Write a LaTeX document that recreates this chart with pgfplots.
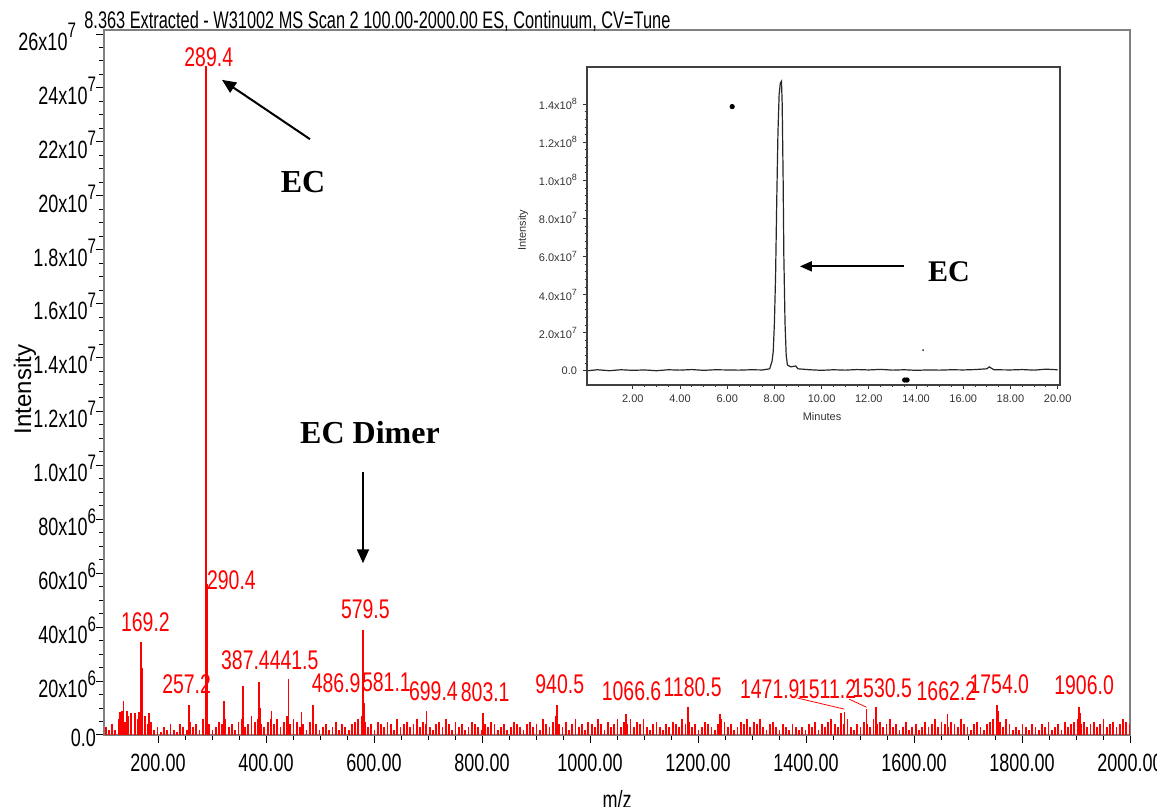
\documentclass[border=0pt]{standalone}
\usepackage{fontspec}
\setmainfont{Liberation Sans}
\newfontfamily\narrow{Liberation Sans}[FakeStretch=0.72]
\newfontfamily\tnr{Liberation Serif}
\usepackage{graphicx}
\usepackage{pgfplots}
\pgfplotsset{compat=1.18}
\usetikzlibrary{arrows.meta}
\newcommand\E[1]{\raisebox{0.5em}{\fontsize{10.5}{11}\selectfont#1}}
\newcommand\e[1]{\raisebox{0.45em}{\fontsize{4.5}{5}\selectfont#1}}

% baseline noise of the spectrum, intensity in 1e6
\pgfplotstableread{
x y
103 3
109 2
115 4
121 2
127 6
133 9
139 5
145 7
151 4
157 8
163 6
169 5
175 7
181 4
187 5
193 2
199 3
205 1
211 3
217 2
223 4
229 2
235 1
241 4
247 3
253 2
259 5
265 3
271 4
277 2
283 6
289 3
295 4
301 2
307 3
313 5
319 4
325 6
331 3
337 4
343 2
349 5
355 6
361 3
367 4
373 7
379 5
385 6
391 4
397 3
403 5
409 6
415 4
421 6
427 3
433 5
439 7
445 4
451 6
457 5
463 3
469 4
475 2
481 5
487 3
493 4
499 2
505 3
511 4
517 2
523 3
529 5
535 2
541 4
547 3
553 2
559 4
565 5
571 6
577 7
583 5
589 3
595 4
601 2
607 5
613 4
619 3
625 5
631 4
637 2
643 6
649 3
655 4
661 5
667 3
673 4
679 6
685 3
691 5
697 4
703 3
709 2
715 4
721 5
727 3
733 6
739 4
745 2
751 5
757 3
763 4
769 2
775 3
781 5
787 4
793 3
799 2
805 4
811 3
817 5
823 4
829 2
835 3
841 4
847 2
853 3
859 5
865 4
871 3
877 2
883 4
889 5
895 3
901 4
907 2
913 6
919 4
925 3
931 5
937 7
943 4
949 3
955 5
961 2
967 4
973 6
979 3
985 4
991 2
997 5
1003 4
1009 3
1015 6
1021 4
1027 2
1033 5
1039 3
1045 4
1051 6
1057 3
1063 5
1069 4
1075 6
1081 3
1087 5
1093 4
1099 6
1105 3
1111 2
1117 4
1123 5
1129 3
1135 2
1141 4
1147 3
1153 5
1159 4
1165 3
1171 6
1177 4
1183 5
1189 3
1195 4
1201 2
1207 3
1213 5
1219 4
1225 3
1231 2
1237 4
1243 6
1249 5
1255 3
1261 4
1267 2
1273 3
1279 5
1285 4
1291 6
1297 3
1303 5
1309 4
1315 6
1321 3
1327 2
1333 4
1339 5
1345 3
1351 2
1357 4
1363 3
1369 2
1375 4
1381 3
1387 2
1393 3
1399 2
1405 4
1411 3
1417 5
1423 2
1429 4
1435 3
1441 5
1447 6
1453 4
1459 3
1465 5
1471 4
1477 6
1483 3
1489 2
1495 4
1501 3
1507 5
1513 4
1519 3
1525 6
1531 4
1537 5
1543 3
1549 4
1555 6
1561 3
1567 4
1573 2
1579 3
1585 5
1591 2
1597 3
1603 4
1609 2
1615 3
1621 5
1627 3
1633 4
1639 6
1645 3
1651 5
1657 4
1663 3
1669 5
1675 4
1681 3
1687 6
1693 4
1699 3
1705 2
1711 4
1717 5
1723 3
1729 2
1735 4
1741 5
1747 6
1753 4
1759 5
1765 3
1771 6
1777 4
1783 2
1789 3
1795 2
1801 4
1807 3
1813 2
1819 4
1825 3
1831 2
1837 4
1843 3
1849 5
1855 2
1861 3
1867 4
1873 2
1879 5
1885 3
1891 4
1897 5
1903 6
1909 4
1915 5
1921 3
1927 4
1933 5
1939 3
1945 4
1951 6
1957 3
1963 4
1969 5
1975 3
1981 4
1987 6
1993 5
1999 4
}\noise

% labelled and other visible peaks, intensity in 1e6
\pgfplotstableread{
x y
130 8.5
136 12.5
143 9
150 8
158 7
165 8.5
168 34.4
171 25
176 7
183 8
257 11
289.4 248
290.4 56
292 10
322 12.5
357.6 18
386.6 19.7
389 10
410 9
441.5 20.9
466 8.4
486.9 11
578 7
579.5 39
581.1 12
697.5 9
802 8.1
938.5 11
1066.7 7.7
1181.6 10.4
1241 7.8
1465 8
1471 8.7
1512 9.6
1530 10.3
1662 7.8
1754 11.2
1756 9
1905 10.4
1908 8
}\peaks

% chromatogram, intensity in 1e7
\pgfplotstableread{
x y
0.10 0.00
0.50 0.05
1.00 0.00
1.50 0.05
2.00 0.02
2.50 0.04
3.00 0.00
3.50 0.05
4.00 0.03
4.50 0.06
5.00 0.02
5.50 0.05
6.00 0.04
6.50 0.03
7.00 0.05
7.50 0.04
7.80 0.10
7.90 0.50
7.95 1.00
8.00 2.50
8.05 5.00
8.10 9.00
8.15 12.5
8.20 14.5
8.25 15.1
8.30 15.2
8.33 14.0
8.37 10.0
8.40 6.00
8.45 2.50
8.50 0.80
8.55 0.30
8.70 0.20
8.90 0.25
9.00 0.10
9.50 0.05
10.0 0.02
10.5 0.05
11.0 0.03
11.5 0.06
12.0 0.04
12.5 0.07
13.0 0.03
13.5 0.05
14.0 0.02
14.5 0.04
15.0 0.03
15.5 0.05
16.0 0.04
16.5 0.06
17.0 0.10
17.1 0.20
17.3 0.05
18.0 0.04
18.5 0.06
19.0 0.03
19.5 0.08
20.0 0.05
}\chrom

\begin{document}
\begin{tikzpicture}
\useasboundingbox (-52pt,-36pt) rectangle (526.5pt,367.5pt);
\begin{axis}[
  scale only axis,
  width=513pt, height=352.5pt,
  xmin=100, xmax=2000, ymin=0, ymax=261.5,
  axis line style={gray, line width=0.7pt},
  xtick={200,400,...,2000},
  xticklabels={200.00,400.00,600.00,800.00,1000.00,1200.00,1400.00,1600.00,1800.00,2000.00},
  minor x tick num=3,
  ytick={0,20,...,260},
  yticklabels={0.0,20x10\E6,40x10\E6,60x10\E6,80x10\E6,1.0x10\E7,1.2x10\E7,1.4x10\E7,1.6x10\E7,1.8x10\E7,20x10\E7,22x10\E7,24x10\E7,26x10\E7\hspace*{10pt}},
  minor y tick num=3,
  tick align=outside, tick pos=left,
  tick style={black, line width=0.5pt},
  major tick length=4pt, minor tick length=2.5pt,
  ticklabel style={font=\narrow\fontsize{12.5}{13}\selectfont},
  yticklabel style={xshift=3.5pt, yshift=-1.5pt},
  xticklabel style={yshift=-2pt},
  clip=false,
]
\addplot[red, line width=0.9pt, ycomb, no marks] table {\noise};
\addplot[red, line width=0.8pt, ycomb, no marks] table {\peaks};

\begin{scope}[red, font=\narrow\fontsize{13.5}{14}\selectfont]
\node at (axis cs:294,251.5) {289.4};
\node at (axis cs:336,57.4) {290.4};
\node at (axis cs:176.7,41.9) {169.2};
\node at (axis cs:253,18.7) {257.2};
\node at (axis cs:362,27.7) {387.4};
\node at (axis cs:452,27.7) {441.5};
\node at (axis cs:530,19.1) {486.9};
\node at (axis cs:623,19.6) {581.1};
\node at (axis cs:710,16.1) {699.4};
\node at (axis cs:806,15.7) {803.1};
\node at (axis cs:944,18.7) {940.5};
\node at (axis cs:584,46.5) {579.5};
\node at (axis cs:1077,16.1) {1066.6};
\node at (axis cs:1190,17.6) {1180.5};
\node at (axis cs:1333,16.8) {1471.9};
\node at (axis cs:1439,16.8) {1511.2};
\node at (axis cs:1541,17.4) {1530.5};
\node at (axis cs:1660,16.1) {1662.2};
\node at (axis cs:1758,18.9) {1754.0};
\node at (axis cs:1915,18.4) {1906.0};
\draw[line width=0.4pt] (axis cs:1384,13.7) -- (axis cs:1471,9.6);
\draw[line width=0.4pt] (axis cs:1480,13.3) -- (axis cs:1512,10.3);
\end{scope}

\draw[-{Triangle[length=7pt,width=6pt]}, line width=1pt] (axis cs:481.5,221) -- (axis cs:318.5,243);
\node[font=\tnr\bfseries\fontsize{16}{18}\selectfont] at (axis cs:468.5,205) {EC};
\node[font=\tnr\bfseries\fontsize{16}{18}\selectfont] at (axis cs:592.6,112.3) {EC Dimer};
\draw[-{Triangle[length=7pt,width=6pt]}, line width=1pt] (axis cs:579.6,97.6) -- (axis cs:579.6,63.7);

\node[rotate=90, font=\fontsize{12}{13}\selectfont] at ([xshift=-39.5pt]rel axis cs:0,0.49) {Intensity};
\node[font=\narrow\fontsize{12.5}{13}\selectfont] at ([yshift=-32.5pt]rel axis cs:0.5,0) {m/z};
\node[anchor=base west, inner sep=0pt, font=\fontsize{12}{13}\selectfont] at ([xshift=-10pt, yshift=0.8pt]rel axis cs:0,1)
  {\resizebox{293pt}{\height}{8.363 Extracted - W31002 MS Scan 2 100.00-2000.00 ES, Continuum, CV=Tune}};
\end{axis}

\begin{axis}[
  at={(241.5pt,175pt)}, anchor=south west,
  scale only axis,
  width=236.5pt, height=159pt,
  xmin=0.06, xmax=20.1, ymin=-0.75, ymax=15.95,
  axis background/.style={fill=white},
  axis line style={black!75, line width=0.6pt},
  xtick={2,4,...,20},
  xticklabels={2.00,4.00,6.00,8.00,10.00,12.00,14.00,16.00,18.00,20.00},
  minor x tick num=3,
  ytick={0,2,...,14},
  yticklabels={0.0,2.0x10\e7,4.0x10\e7,6.0x10\e7,8.0x10\e7,1.0x10\e8,1.2x10\e8,1.4x10\e8},
  minor y tick num=4,
  tick align=outside, tick pos=left,
  tick style={black!80, line width=0.4pt},
  major tick length=2pt, minor tick length=1.2pt,
  ticklabel style={font=\fontsize{5.5}{6}\selectfont, text=black!80},
  yticklabel style={xshift=0.5pt},
  xticklabel style={yshift=0.5pt},
  clip=false,
]
\addplot[black!85, line width=0.6pt, no marks] table {\chrom};
\addplot[only marks, mark=*, mark size=1.1pt, black] coordinates {(6.21,13.87) (13.52,-0.49) (13.62,-0.49)};
\addplot[only marks, mark=*, mark size=0.3pt, black!70] coordinates {(14.3,1.08)};
\draw[-{Triangle[length=6pt,width=5pt]}, line width=0.9pt] (axis cs:13.5,5.48) -- (axis cs:9.08,5.48);
\node[font=\tnr\bfseries\fontsize{15}{17}\selectfont] at (axis cs:15.4,5.2) {EC};
\node[rotate=90, font=\fontsize{5.5}{6}\selectfont, text=black!80] at ([xshift=-32pt]rel axis cs:0,0.487) {Intensity};
\node[font=\fontsize{5.5}{6}\selectfont, text=black!80] at ([yshift=-16pt]rel axis cs:0.497,0) {Minutes};
\end{axis}
\end{tikzpicture}
\end{document}
